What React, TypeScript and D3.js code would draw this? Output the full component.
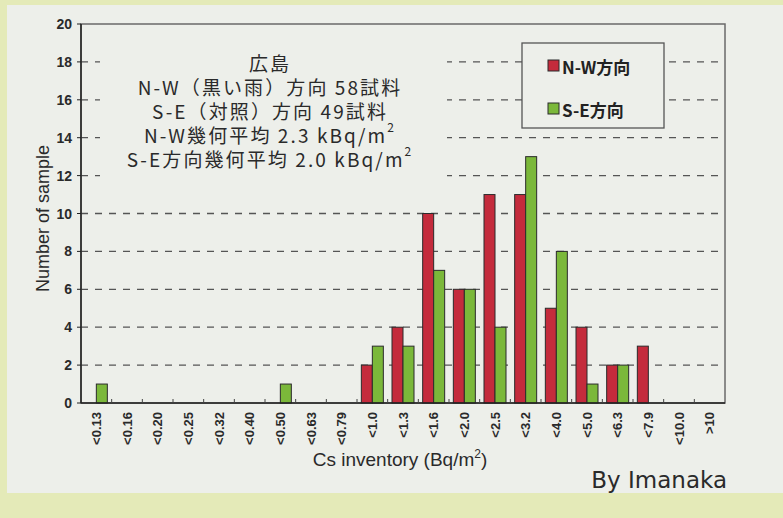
import * as d3 from "d3";

const W = 783;
const H = 518;
const M = { top: 24, right: 58, bottom: 115, left: 81 };

const categories = [
  "<0.13", "<0.16", "<0.20", "<0.25", "<0.32", "<0.40", "<0.50", "<0.63", "<0.79", "<1.0",
  "<1.3", "<1.6", "<2.0", "<2.5", "<3.2", "<4.0", "<5.0", "<6.3", "<7.9", "<10.0", ">10",
];
const nwCounts = [0, 0, 0, 0, 0, 0, 0, 0, 0, 2, 4, 10, 6, 11, 11, 5, 4, 2, 3, 0, 0];
const seCounts = [1, 0, 0, 0, 0, 0, 1, 0, 0, 3, 3, 7, 6, 4, 13, 8, 1, 2, 0, 0, 0];
const seriesKeys = ["nw", "se"];
const seriesLabels = ["N-W方向", "S-E方向"];
const yTickValues = [0, 2, 4, 6, 8, 10, 12, 14, 16, 18, 20];
const noteLines = [
  { text: "広島" },
  { text: "N-W（黒い雨）方向 58試料" },
  { text: "S-E（対照）方向 49試料" },
  { text: "N-W幾何平均 2.3 kBq/m", sup: "2" },
  { text: "S-E方向幾何平均 2.0 kBq/m", sup: "2" },
];

const COLORS: Record<string, string> = { nw: "#c42b3c", se: "#7bb83a" };
const PAPER = "#edefea";
const BAND = "#e4eab8";
const LATIN = "'Liberation Sans', Arial, sans-serif";
const JP = "'Noto Sans CJK JP', sans-serif";

export default function App() {
  const x0 = d3.scaleBand<string>().domain(categories).range([M.left, W - M.right]);
  const bw = x0.bandwidth();
  const x1 = d3.scaleBand<string>().domain(seriesKeys).range([bw / 2 - 11, bw / 2 + 11]);
  const y = d3.scaleLinear().domain([0, 20]).range([H - M.bottom, M.top]);

  const bottom = H - M.bottom;
  const right = W - M.right;

  const bars = categories.flatMap((c, i) => [
    { c, key: "nw", v: nwCounts[i] },
    { c, key: "se", v: seCounts[i] },
  ]);

  // text box + legend sit on top of the gridlines with paper fill
  const note = { x: 100, y: 34, w: 347, h: 152, cx: 270 };
  const leg = { x: 522, y: 43, w: 142, h: 85 };

  return (
    <svg
      width={W}
      height={H}
      viewBox={`0 0 ${W} ${H}`}
      style={{ position: "absolute", left: 0, top: 0 }}
    >
      {/* paper + yellow-green border */}
      <rect x={0} y={0} width={W} height={H} fill={BAND} />
      <rect x={7} y={5} width={W - 7} height={488} fill={PAPER} />

      {/* gridlines */}
      {yTickValues
        .filter((t) => t > 0 && t < 20)
        .map((t) => (
          <line
            key={`g${t}`}
            x1={M.left}
            x2={right}
            y1={y(t)}
            y2={y(t)}
            stroke="#555"
            strokeWidth={1.3}
            strokeDasharray="7 7"
          />
        ))}

      {/* plot frame */}
      <rect
        x={M.left}
        y={M.top}
        width={right - M.left}
        height={bottom - M.top}
        fill="none"
        stroke="#6a6a6a"
        strokeWidth={1.5}
      />

      {/* note box */}
      <rect x={note.x} y={note.y} width={note.w} height={note.h} fill={PAPER} />
      {noteLines.map((l, i) => (
        <text
          key={i}
          x={note.cx}
          y={[62, 86, 110, 134, 158][i]}
          textAnchor="middle"
          dominantBaseline="central"
          fontFamily={JP}
          fontSize={19}
          letterSpacing={2.1}
          fill="#2a2a2a"
        >
          {l.text}
          {l.sup && (
            <tspan fontSize={12} dy={-8}>
              {l.sup}
            </tspan>
          )}
        </text>
      ))}

      {/* bars */}
      {bars
        .filter((b) => b.v > 0)
        .map((b) => (
          <rect
            key={`${b.c}-${b.key}`}
            x={(x0(b.c) ?? 0) + (x1(b.key) ?? 0)}
            y={y(b.v)}
            width={x1.bandwidth()}
            height={bottom - y(b.v)}
            fill={COLORS[b.key]}
            stroke="#2b2b2b"
            strokeWidth={1}
          />
        ))}

      {/* axes */}
      <line x1={M.left} x2={M.left} y1={M.top} y2={bottom} stroke="#222" strokeWidth={1.5} />
      <line x1={M.left} x2={right} y1={bottom} y2={bottom} stroke="#222" strokeWidth={1.5} />
      {categories.slice(1).map((c) => (
        <line
          key={`t${c}`}
          x1={x0(c)}
          x2={x0(c)}
          y1={bottom}
          y2={bottom - 4}
          stroke="#444"
          strokeWidth={1}
        />
      ))}
      {yTickValues.map((t) => (
        <g key={`y${t}`}>
          <line x1={M.left - 4} x2={M.left} y1={y(t)} y2={y(t)} stroke="#222" />
          <text
            x={M.left - 9}
            y={y(t)}
            textAnchor="end"
            dominantBaseline="central"
            fontFamily={LATIN}
            fontWeight={700}
            fontSize={14}
            fill="#2a2a2a"
          >
            {t}
          </text>
        </g>
      ))}
      {categories.map((c) => (
        <text
          key={`x${c}`}
          transform={`translate(${(x0(c) ?? 0) + bw / 2},${bottom + 9}) rotate(-90)`}
          textAnchor="end"
          dominantBaseline="central"
          fontFamily={LATIN}
          fontWeight={700}
          fontSize={13}
          fill="#2a2a2a"
        >
          {c}
        </text>
      ))}

      {/* axis titles */}
      <text
        transform={`translate(43,${(M.top + bottom) / 2 + 5}) rotate(-90)`}
        textAnchor="middle"
        dominantBaseline="central"
        fontFamily={LATIN}
        fontSize={18}
        fill="#2a2a2a"
      >
        Number of sample
      </text>
      <text
        x={(M.left + right) / 2 - 3}
        y={466}
        textAnchor="middle"
        fontFamily={LATIN}
        fontSize={19}
        fill="#2a2a2a"
      >
        Cs inventory (Bq/m
        <tspan fontSize={12} dy={-8}>
          2
        </tspan>
        <tspan dy={8}>)</tspan>
      </text>

      {/* legend */}
      <rect
        x={leg.x}
        y={leg.y}
        width={leg.w}
        height={leg.h}
        fill={PAPER}
        stroke="#555"
        strokeWidth={1.3}
      />
      {seriesKeys.map((k, i) => (
        <g key={k}>
          <rect
            x={leg.x + 26}
            y={leg.y + 17 + i * 43}
            width={11}
            height={11}
            fill={COLORS[k]}
            stroke="#2b2b2b"
          />
          <text
            x={leg.x + 40}
            y={leg.y + 23 + i * 43}
            dominantBaseline="central"
            fontFamily={JP}
            fontWeight={700}
            fontSize={17}
            fill="#222"
          >
            {seriesLabels[i]}
          </text>
        </g>
      ))}

      {/* credit */}
      <text
        x={727}
        y={488}
        textAnchor="end"
        fontFamily="'DejaVu Sans', Verdana, sans-serif"
        fontSize={23}
        fill="#2a2a2a"
      >
        By Imanaka
      </text>
    </svg>
  );
}
